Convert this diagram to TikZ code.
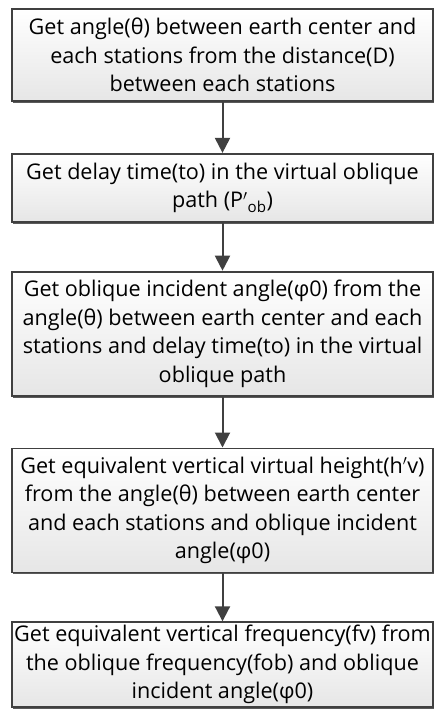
\documentclass[tikz,border=0pt]{standalone}
\usepackage{fontspec}
\setmainfont{Open Sans}
\usetikzlibrary{arrows.meta,positioning,shadows}
\definecolor{edge}{HTML}{404040}
\definecolor{shade}{HTML}{E6E6E6}
\definecolor{drop}{HTML}{5A5A5A}
\tikzset{
  stepbox/.style={
    draw=edge, line width=1.8pt, top color=white, bottom color=shade,
    minimum width=421pt, inner xsep=0pt, inner ysep=3pt,
    align=center, font=\fontsize{21.6}{28.5}\selectfont,
    drop shadow={shadow xshift=1.2pt, shadow yshift=-2pt, fill=drop, opacity=1}
  },
  arrow/.style={-{Triangle[length=15pt, width=15pt]}, line width=2pt, draw=edge}
}
\begin{document}
\begin{tikzpicture}
  \useasboundingbox (0,0) rectangle (434pt,-711pt);
  \node[stepbox, minimum height=92pt] (angle) at (222.5pt,-55pt)
    {Get angle(θ) between earth center and\\each stations from the distance(D)\\between each stations};
  \node[stepbox, minimum height=68pt, below=51pt of angle] (delay)
    {Get delay time(to) in the virtual oblique\\path (P$'$\textsubscript{ob})};
  \node[stepbox, minimum height=124pt, below=48pt of delay] (incident)
    {Get oblique incident angle(φ0) from the\\angle(θ) between earth center and each\\stations and delay time(to) in the virtual\\oblique path};
  \node[stepbox, minimum height=124pt, below=51pt of incident] (height)
    {Get equivalent vertical virtual height(h$'$v)\\from the angle(θ) between earth center\\and each stations and oblique incident\\angle(φ0)};
  \node[stepbox, minimum height=85pt, below=48pt of height] (freq)
    {Get equivalent vertical frequency(fv) from\\the oblique frequency(fob) and oblique\\incident angle(φ0)};
  \draw[arrow] (angle) -- (delay);
  \draw[arrow] (delay) -- (incident);
  \draw[arrow] (incident) -- (height);
  \draw[arrow] (height) -- (freq);
\end{tikzpicture}
\end{document}
